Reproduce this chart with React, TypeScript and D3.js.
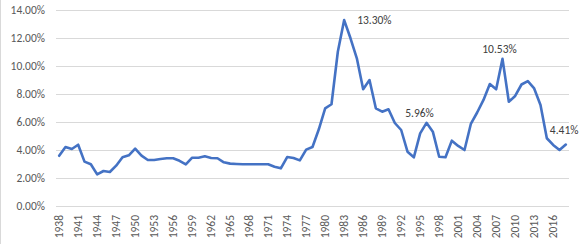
import React from "react";
import * as d3 from "d3";

const years: number[] = d3.range(1938, 2019);
const rates: number[] = [
  3.61, 4.23, 4.09, 4.4, 3.19, 3.0, 2.28, 2.52, 2.45, 2.9,
  3.5, 3.64, 4.12, 3.62, 3.31, 3.31, 3.38, 3.43, 3.43, 3.25,
  3.0, 3.47, 3.47, 3.57, 3.45, 3.43, 3.14, 3.05, 3.02, 3.0,
  3.0, 3.0, 3.0, 3.0, 2.83, 2.71, 3.52, 3.45, 3.28, 4.05,
  4.24, 5.5, 7.0, 7.29, 11.04, 13.3, 12.0, 10.57, 8.36, 9.02,
  7.0, 6.76, 6.93, 5.95, 5.45, 3.9, 3.5, 5.21, 5.96, 5.33,
  3.54, 3.5, 4.69, 4.31, 4.02, 5.88, 6.7, 7.6, 8.73, 8.36,
  10.53, 7.47, 7.88, 8.7, 8.94, 8.42, 7.24, 4.86, 4.38, 4.02,
  4.41,
];
const yTicks: number[] = [0, 2, 4, 6, 8, 10, 12, 14];
const labelYears: number[] = [1983, 1996, 2008, 2018];
const labelOffsets: [number, number][] = [
  [13, 0],
  [-7, -10],
  [-3, -10],
  [-16, -15],
];
const labelAnchors: string[] = ["start", "middle", "middle", "start"];

export default function App() {
  const W = 579;
  const H = 244;
  const left = 56;
  const right = 569;
  const top = 10.3;
  const bottom = 206.3;

  const x = d3
    .scaleBand<number>()
    .domain(years)
    .range([left, right])
    .paddingInner(0)
    .paddingOuter(0);
  const cx = (yr: number) => (x(yr) as number) + x.bandwidth() / 2;
  const y = d3.scaleLinear().domain([0, 14]).range([bottom, top]);

  const line = d3
    .line<number>()
    .x((_, i) => cx(years[i]))
    .y((d) => y(d))
    .curve(d3.curveLinear);

  const font = "Calibri, Carlito, 'Liberation Sans', Arial, sans-serif";
  const xTickYears = years.filter((yr) => (yr - 1938) % 3 === 0);

  return (
    <svg
      width={W}
      height={H}
      style={{ position: "absolute", left: 0, top: 0, background: "#fff" }}
      fontFamily={font}
    >
      <rect x={0} y={0} width={W} height={H} fill="#fff" />
      <line x1={0.5} x2={0.5} y1={0} y2={H} stroke="#d9d9d9" />
      {yTicks.map((t) => (
        <g key={t}>
          <line
            x1={left}
            x2={right}
            y1={Math.round(y(t)) + 0.5}
            y2={Math.round(y(t)) + 0.5}
            stroke="#d9d9d9"
            strokeWidth={1}
          />
          <text
            x={45}
            y={y(t)}
            dy="0.35em"
            textAnchor="end"
            fontSize={11.5}
            fill="#595959"
          >
            {t.toFixed(2) + "%"}
          </text>
        </g>
      ))}
      {xTickYears.map((yr) => (
        <text
          key={yr}
          transform={`translate(${cx(yr)},${215}) rotate(-90)`}
          dy="0.35em"
          textAnchor="end"
          fontSize={11.5}
          fill="#595959"
        >
          {yr}
        </text>
      ))}
      <path
        d={line(rates) || ""}
        fill="none"
        stroke="#4472c4"
        strokeWidth={2.6}
        strokeLinejoin="round"
        strokeLinecap="round"
      />
      {labelYears.map((yr, i) => {
        const v = rates[years.indexOf(yr)];
        const [dx, dy] = labelOffsets[i];
        return (
          <text
            key={yr}
            x={cx(yr) + dx}
            y={y(v) + dy}
            dy="0.35em"
            textAnchor={labelAnchors[i]}
            fontSize={11.5}
            fill="#404040"
          >
            {v.toFixed(2) + "%"}
          </text>
        );
      })}
    </svg>
  );
}
